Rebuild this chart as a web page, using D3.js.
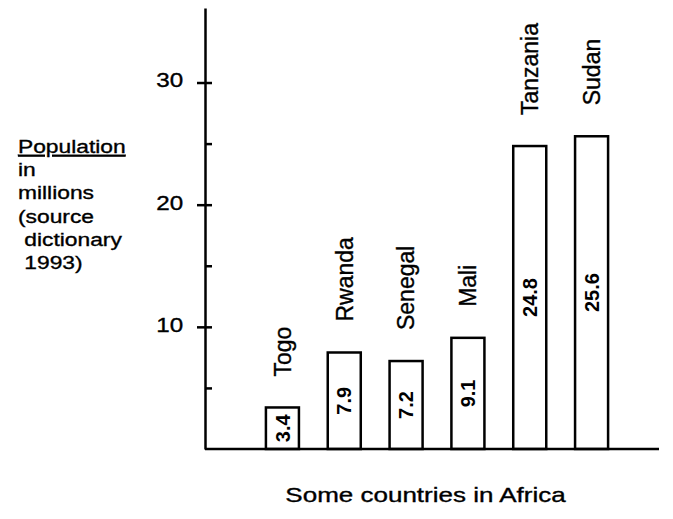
<!DOCTYPE html>
<html>
<head>
<meta charset="utf-8">
<script src="https://cdn.jsdelivr.net/npm/d3@7"></script>
<style>
  html, body { margin: 0; padding: 0; background: #fff; }
  svg { display: block; }
  text { font-family: "Liberation Sans", Arial, Helvetica, sans-serif; fill: #000; stroke: #000; stroke-width: 0.35px; }
</style>
</head>
<body>
<svg id="chart" width="673" height="519"></svg>
<script>
// Population of some African countries, millions (source: dictionary 1993)
const countries = ["Togo", "Rwanda", "Senegal", "Mali", "Tanzania", "Sudan"];
const population = [3.4, 7.9, 7.2, 9.1, 24.8, 25.6];
const majorTicks = [10, 20, 30];
const minorTicks = [5, 15, 25];
const yTitleLines = ["Population", "in", "millions", "(source", " dictionary", " 1993)"];
const xTitle = "Some countries in Africa";

const svg = d3.select("#chart");
const axisX = 205;

const y = d3.scaleLinear().domain([0, 36.1]).range([449, 8]);
const x = d3.scaleBand()
  .domain(countries)
  .range([235, 639])
  .paddingInner(0.466)
  .paddingOuter(0.5);

// bars
const bars = svg.append("g");
bars.selectAll("rect")
  .data(countries)
  .join("rect")
  .attr("x", d => x(d))
  .attr("width", x.bandwidth())
  .attr("y", (d, i) => y(population[i]))
  .attr("height", (d, i) => y(0) - y(population[i]))
  .attr("fill", "#fff")
  .attr("stroke", "#000")
  .attr("stroke-width", 2.5);

// value printed inside each bar
bars.selectAll("text.value")
  .data(countries)
  .join("text")
  .attr("class", "value")
  .attr("transform", (d, i) =>
    `translate(${x(d) + x.bandwidth() / 2},${y(Math.min(population[i] / 2, 14))}) rotate(-90)`)
  .attr("text-anchor", "middle")
  .attr("dy", "0.36em")
  .style("font-size", "20px")
  .style("font-weight", "bold")
  .style("stroke-width", "0")
  .text((d, i) => population[i].toFixed(1));

// country names above the bars
bars.selectAll("text.name")
  .data(countries)
  .join("text")
  .attr("class", "name")
  .attr("transform", (d, i) =>
    `translate(${x(d) + x.bandwidth() / 2},${y(population[i]) - 31}) rotate(-90)`)
  .attr("text-anchor", "start")
  .attr("dy", "0.36em")
  .style("font-size", "23px")
  .text(d => d);

// baseline
svg.append("line")
  .attr("x1", axisX).attr("x2", x.range()[1] + 20)
  .attr("y1", y(0)).attr("y2", y(0))
  .attr("stroke", "#000").attr("stroke-width", 2.5);

// y axis: labelled ticks on the left, short ticks on the right
const leftAxis = svg.append("g")
  .attr("transform", `translate(${axisX},0)`)
  .call(d3.axisLeft(y).tickValues(majorTicks).tickSize(8).tickSizeOuter(0).tickPadding(10));
leftAxis.select(".domain").attr("stroke-width", 2.5);
leftAxis.selectAll(".tick line").attr("stroke-width", 2.5);
leftAxis.selectAll(".tick text")
  .attr("dy", "0.22em")
  .attr("transform", "scale(1.21,1)")
  .style("font-size", "20px")
  .style("font-family", "'Liberation Sans', Arial, sans-serif");

const rightAxis = svg.append("g")
  .attr("transform", `translate(${axisX},0)`)
  .call(d3.axisRight(y).tickValues(majorTicks.concat(minorTicks)).tickSize(7).tickSizeOuter(0).tickFormat(""));
rightAxis.select(".domain").remove();
rightAxis.selectAll(".tick line").attr("stroke-width", 2.5);

// y axis title, stacked lines on the left
const yTitle = svg.append("g").attr("transform", "translate(18,153) scale(1.2,1)");
yTitle.selectAll("text")
  .data(yTitleLines)
  .join("text")
  .attr("x", 0)
  .attr("y", (d, i) => i * 23.2)
  .style("font-size", "19px")
  .style("white-space", "pre")
  .style("text-decoration", (d, i) => i === 0 ? "underline" : "none")
  .text(d => d);

// x axis title
svg.append("text")
  .attr("transform", "translate(425.5,502) scale(1.3,1)")
  .attr("text-anchor", "middle")
  .style("font-size", "20px")
  .text(xTitle);
</script>
</body>
</html>
